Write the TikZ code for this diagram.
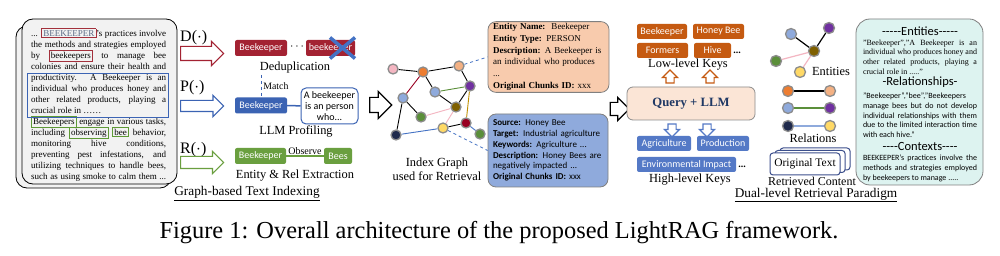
\documentclass[tikz,border=0pt]{standalone}
\usepackage{fontspec}
\setmainfont{Liberation Serif}
\setsansfont{Carlito}
\usetikzlibrary{positioning,shapes.arrows,calc}

\definecolor{idxred}{HTML}{A32232}
\definecolor{idxblue}{HTML}{3B63B3}
\definecolor{idxgreen}{HTML}{6A9F3F}
\definecolor{docgray}{HTML}{F2F2F2}
\definecolor{hlred}{HTML}{A3303C}
\definecolor{hlblue}{HTML}{3C64B4}
\definecolor{hlgreen}{HTML}{5E9A36}
\definecolor{bkcolor}{HTML}{5B6B86}
\definecolor{xblue}{HTML}{4472C4}
\definecolor{entfill}{HTML}{F8CBAD}
\definecolor{relfill}{HTML}{8FAADC}
\definecolor{qfill}{HTML}{FBE5D6}
\definecolor{qtext}{HTML}{1F3864}
\definecolor{lowkey}{HTML}{C55A11}
\definecolor{highkey}{HTML}{5479C6}
\definecolor{ctxfill}{HTML}{DDF3F0}
\definecolor{otblue}{HTML}{3C4F8C}
\definecolor{gpink}{HTML}{F4B6C2}
\definecolor{gorange}{HTML}{ED7D31}
\definecolor{gpeach}{HTML}{F4B183}
\definecolor{glblue}{HTML}{8FAADC}
\definecolor{gpurple}{HTML}{7030A0}
\definecolor{golive}{HTML}{7F6000}
\definecolor{ggreen}{HTML}{5B8F3A}
\definecolor{gdred}{HTML}{990022}
\definecolor{gyellow}{HTML}{FFD966}
\definecolor{gnavy}{HTML}{1F2A4C}
\definecolor{egold}{HTML}{BF9000}

\pgfdeclarelayer{bg}
\pgfdeclarelayer{edges}
\pgfsetlayers{bg,edges,main}

\newcommand{\jst}[2]{\makebox[#1][s]{#2}}
\newcommand{\wbox}[2]{{\fboxsep=1.2pt\fboxrule=0.8pt\color{#1}\fbox{\color{black}#2}}}
\newcommand{\dd}{-\kern0pt}
\newcommand{\tightlines}{\lineskiplimit=-20pt\relax}

\begin{document}
\begin{tikzpicture}[x=1pt, y=-1pt,
  font=\rmfamily,
  tag/.style={fill=#1, text=white, font=\sffamily\fontsize{10}{11}\selectfont, rounded corners=2pt, minimum height=16pt, inner xsep=2pt, inner ysep=0pt},
  key/.style={tag=#1, minimum height=15pt},
  lbl/.style={font=\fontsize{12.4}{14}\selectfont, align=center, inner sep=1pt},
  optxt/.style={font=\fontsize{16}{16}\selectfont, anchor=west, inner sep=0pt},
  hollow/.style={single arrow, draw=#1, fill=white, line width=1.2pt, inner sep=0pt, single arrow head extend=5pt},
  gn/.style={circle, fill=#1, draw=black!45, line width=1.3pt, minimum size=10pt, inner sep=0pt},
  gedge/.style={draw=#1, line width=0.9pt},
  infobox/.style={draw=black!50, line width=0.8pt, rounded corners=8pt, align=left, inner xsep=5pt, inner ysep=2pt},
  ctxhead/.style={font=\sffamily\fontsize{12.5}{13}\selectfont, inner sep=0pt},
  ctxbody/.style={align=left, inner sep=0pt, anchor=north},
  otext/.style={draw=otblue, fill=white, line width=1pt, rounded corners=3pt, minimum width=70pt, minimum height=22pt, inner sep=0pt, font=\fontsize{11.5}{12}\selectfont},
]
\useasboundingbox (0,0) rectangle (1000,256);
\begin{pgfonlayer}{bg}
\fill[white] (0,0) rectangle (1000,256);
\end{pgfonlayer}

% ---------------- source document ----------------
\draw[fill=docgray, rounded corners=11pt, line width=0.8pt] (16,26) rectangle (171,188);
\draw[fill=docgray, rounded corners=11pt, line width=0.8pt] (22,19) rectangle (177,184);
\node[align=left, inner sep=0pt, anchor=north west, font=\fontsize{9}{11}\selectfont\tightlines] (doc) at (31,28) {%
\jst{135pt}{... \wbox{hlred}{\textcolor{bkcolor}{BEEKEEPER}}'s practices involve}\\
\jst{135pt}{the methods and strategies employed}\\
\jst{135pt}{by \wbox{hlred}{beekeepers} to manage bee}\\
\jst{135pt}{colonies and ensure their health and}\\
\jst{135pt}{productivity. A Beekeeper is an}\\
\jst{135pt}{individual who produces honey and}\\
\jst{135pt}{other related products, playing a}\\
crucial role in ……\\
\jst{135pt}{\wbox{hlgreen}{Beekeepers} engage in various tasks,}\\
\jst{135pt}{including \wbox{hlgreen}{observing} \wbox{hlgreen}{bee} behavior,}\\
\jst{135pt}{monitoring hive conditions,}\\
\jst{135pt}{preventing pest infestations, and}\\
\jst{135pt}{utilizing techniques to handle bees,}\\
\jst{135pt}{such as using smoke to calm them ...}};
\draw[hlblue, line width=0.8pt] (27,73) rectangle (168,117);

% ---------------- D / P / R operators ----------------
\node[optxt] (dop) at (180,38) {D($\cdot$)};
\node[optxt] (pop) at (180,88) {P($\cdot$)};
\node[optxt] (rop) at (180,150) {R($\cdot$)};
\node[hollow=idxred, minimum height=43pt, inner ysep=6.5pt, anchor=tail] (darr) at (180,53.5) {};
\node[hollow=idxblue, minimum height=43pt, inner ysep=5pt, anchor=tail] (parr) at (180,106) {};
\node[hollow=idxgreen, minimum height=43pt, inner ysep=5.5pt, anchor=tail] (rarr) at (180,162.5) {};

% ---------------- graph-based indexing ----------------
\node[tag=idxred, minimum width=52pt] (dedupA) at (261,48) {Beekeeper};
\node[tag=idxred, minimum width=49pt] (dedupB) at (330.5,48) {beekeeper};
\node[font=\bfseries\fontsize{12}{12}\selectfont, inner sep=0pt] (dedupdots) at (297,47) {$\cdots$};
\draw[xblue, line width=3.5pt] ($(dedupB.center)+(-0.5,-10.5)$) -- ($(dedupB.center)+(24.5,10.5)$);
\draw[xblue, line width=3.5pt] ($(dedupB.center)+(-0.5,10.5)$) -- ($(dedupB.center)+(24.5,-10.5)$);
\node[lbl] (dedup) at (295,68) {Deduplication};

\node[tag=idxblue, minimum width=52pt] (profA) at (261,105.5) {Beekeeper};
\draw[idxblue, dashed, line width=0.8pt] (dedup.south -| profA.north) -- node[right, text=black, font=\fontsize{9.8}{10}\selectfont, inner sep=2pt] {Match} (profA.north);
\node[draw=idxblue, fill=white, rounded corners=5pt, line width=1pt, font=\sffamily\fontsize{10}{11}\selectfont, align=center, minimum width=57pt, minimum height=36pt, inner sep=1pt] (prof) at (329.5,106) {A beekeeper\\is an person\\who...};
\draw[idxblue, line width=1.5pt] (profA) -- (prof);
\node[lbl] (llmprof) at (296,131) {LLM Profiling};

\node[tag=idxgreen, minimum width=51pt] (relA) at (260.5,156) {Beekeeper};
\node[tag=idxgreen, minimum width=28pt] (relB) at (338,156) {Bees};
\draw[idxgreen, line width=1.5pt] (relA) -- node[anchor=south, text=black, inner sep=0.5pt, font=\fontsize{10}{10}\selectfont] {Observe} (relB);
\node[lbl] (extr) at (295,176) {Entity \& Rel Extraction};
\node[lbl, font=\fontsize{13.3}{14}\selectfont] (idxtitle) at (247,193.5) {\underline{Graph-based Text Indexing}};

\node[hollow=black, minimum height=22pt, inner ysep=7pt, single arrow head extend=6pt] (toGraph) at (377,105) {};

% ---------------- index graph ----------------
\foreach \n/\x/\y/\c in {a/393/69/gpink, b/423/72/gorange, c/459/66/gpeach, d/435/92/glblue,
  e/470/86/gpurple, f/403/98/glblue, g/456/107/golive, h/421/117/ggreen,
  i/466/123/gdred, j/443/128/gyellow, k/396/135/gnavy, l/480/134/ggreen}
  \node[gn=\c] (g\n) at (\x,\y) {};
\begin{pgfonlayer}{edges}
\foreach \a/\b/\c in {a/b/black, b/c/black, b/d/black, b/f/gdred, c/e/black, d/e/ggreen,
  d/g/black, e/g/black, e/i/egold, f/h/black, f/k/black, h/g/gpink, g/j/gpink,
  j/i/black, k/j/xblue, i/l/xblue}
  \draw[gedge=\c] (g\a) -- (g\b);
\end{pgfonlayer}
\node[lbl] (gtitle) at (437,169) {Index Graph\\used for Retrieval};

% ---------------- entity / relation records ----------------
\node[infobox, fill=entfill, text width=111pt, minimum height=70pt, font=\fontsize{9}{11.7}\selectfont] (ent) at (548.5,57) {%
\textbf{Entity Name:}\ \ Beekeeper\\
\textbf{Entity Type:} PERSON\\
\textbf{Description:} A Beekeeper is\\
an individual who produces ...\\
\textbf{Original Chunks ID:} xxx};
\node[infobox, fill=relfill, text width=110pt, minimum height=73pt, font=\sffamily\fontsize{9}{10.8}\selectfont] (rel) at (548,150.5) {%
\textbf{Source:} Honey Bee\\
\textbf{Target:} Industrial agriculture\\
\textbf{Keywords:} Agriculture ...\\
\textbf{Description:} Honey Bees are\\
negatively impacted ...\\
\textbf{Original Chunks ID:} xxx};
\draw[xblue, dashed, line width=0.8pt] (gc) -- (ent.west);
\draw[xblue, dashed, line width=0.8pt] (gj) -- (rel.west);

\node[hollow=black, minimum height=19pt, inner ysep=6pt, single arrow head extend=5pt] (toQuery) at (616.5,109) {};

% ---------------- dual-level keys ----------------
\node[draw=black!45, fill=qfill, rounded corners=6pt, line width=0.8pt, minimum width=128pt, minimum height=33pt, text=qtext, font=\bfseries\fontsize{12.7}{13}\selectfont] (query) at (691,103.5) {Query + LLM};

\node[key=lowkey, minimum width=50pt] (kBee) at (662,31.5) {Beekeeper};
\node[key=lowkey, minimum width=51pt] (kHoney) at (718.5,31.5) {Honey Bee};
\node[key=lowkey, minimum width=51pt] (kForm) at (662.5,50.5) {Formers};
\node[key=lowkey, minimum width=37pt] (kHive) at (712.5,50.5) {Hive};
\node[anchor=base west, inner sep=0pt, font=\bfseries\fontsize{10}{10}\selectfont] (lowdots) at ($(kHive.base east)+(2,0)$) {...};
\node[lbl] (lowlbl) at (688,65) {Low-level Keys};
\node[hollow=lowkey, rotate=90, minimum height=13pt, inner ysep=3.5pt, single arrow head extend=3.5pt] (upA) at (670,78.5) {};
\node[hollow=lowkey, rotate=90, minimum height=13pt, inner ysep=3.5pt, single arrow head extend=3.5pt] (upB) at (710,78.5) {};

\node[hollow=highkey, rotate=-90, minimum height=13pt, inner ysep=3.5pt, single arrow head extend=3.5pt] (downA) at (672,128.5) {};
\node[hollow=highkey, rotate=-90, minimum height=13pt, inner ysep=3.5pt, single arrow head extend=3.5pt] (downB) at (707,128.5) {};
\node[key=highkey, minimum width=54pt] (kAgri) at (664,143.5) {Agriculture};
\node[key=highkey, minimum width=52pt] (kProd) at (723,143.5) {Production};
\node[key=highkey, minimum width=99pt] (kEnv) at (686.5,164.5) {Environmental Impact};
\node[anchor=base west, inner sep=0pt, font=\bfseries\fontsize{10}{10}\selectfont] (highdots) at ($(kEnv.base east)+(2,0)$) {...};
\node[lbl] (highlbl) at (690,180) {High-level Keys};
\node[lbl, inner sep=0pt, font=\fontsize{13.3}{14}\selectfont] (rettitle) at (816,195) {\underline{Dual-level Retrieval Paradigm}};

% ---------------- retrieved content ----------------
\foreach \n/\x/\y/\c in {a/791/34/glblue, b/829/28/gpurple, c/814/51/golive, d/776/61/ggreen, e/800/72/gyellow,
  pa/788/91/gorange, pb/830/91/gpeach, qa/788/108/glblue, qb/830/108/gpurple, ra/788/126/gnavy, rb/830/126/gyellow}
  \node[gn=\c, minimum size=11pt] (r\n) at (\x,\y) {};
\begin{pgfonlayer}{edges}
\foreach \a/\b/\c in {a/c/black, b/c/black, d/c/gpink, e/c/gpink, pa/pb/black, qa/qb/ggreen, ra/rb/glblue}
  \draw[gedge=\c, line width=1.2pt] (r\a) -- (r\b);
\end{pgfonlayer}
\node[lbl] (entlbl) at (831,71) {Entities};
\node[lbl] (rellbl) at (813,138) {Relations};
\node[otext] (ot3) at (815,159) {};
\node[otext] (ot2) at (810,161.5) {};
\node[otext] (ot1) at (805,164) {Original Text};
\node[lbl, inner sep=0pt, font=\fontsize{12}{13}\selectfont] (retlbl) at (812,181) {Retrieved Content};

\node[draw=black!50, fill=ctxfill, rounded corners=14pt, line width=0.8pt, minimum width=127pt, minimum height=166pt] (ctx) at (919.5,102) {};
\node[ctxhead] (hEnt) at (920,31) {\dd\dd\dd\dd\dd Entities\dd\dd\dd\dd\dd};
\node[ctxbody, font=\fontsize{8}{9.7}\selectfont] (tEnt) at (920,39.5) {%
\jst{114pt}{"Beekeeper","A Beekeeper is an}\\
\jst{114pt}{individual who produces honey and}\\
\jst{114pt}{other related products, playing a}\\
crucial role in ....."};
\node[ctxhead] (hRel) at (920,82) {\dd Relationships\dd};
\node[ctxbody, font=\sffamily\fontsize{8}{9.6}\selectfont] (tRel) at (920,93) {%
"Beekeeper","bee","Beekeepers\\
\jst{114pt}{manage bees but do not develop}\\
\jst{114pt}{individual relationships with them}\\
\jst{114pt}{due to the limited interaction time}\\
with each hive."};
\node[ctxhead] (hCtx) at (920,146) {\dd\dd\dd\dd Contexts\dd\dd\dd\dd};
\node[ctxbody, font=\sffamily\fontsize{8}{10}\selectfont] (tCtx) at (920,155) {%
\jst{114pt}{BEEKEEPER's practices involve the}\\
\jst{114pt}{methods and strategies employed}\\
by beekeepers to manage .....};

% ---------------- caption ----------------
\node[font=\fontsize{24.4}{26}\selectfont, inner sep=0pt] (caption) at (499,233) {Figure 1: Overall architecture of the proposed LightRAG framework.};
\end{tikzpicture}
\end{document}
